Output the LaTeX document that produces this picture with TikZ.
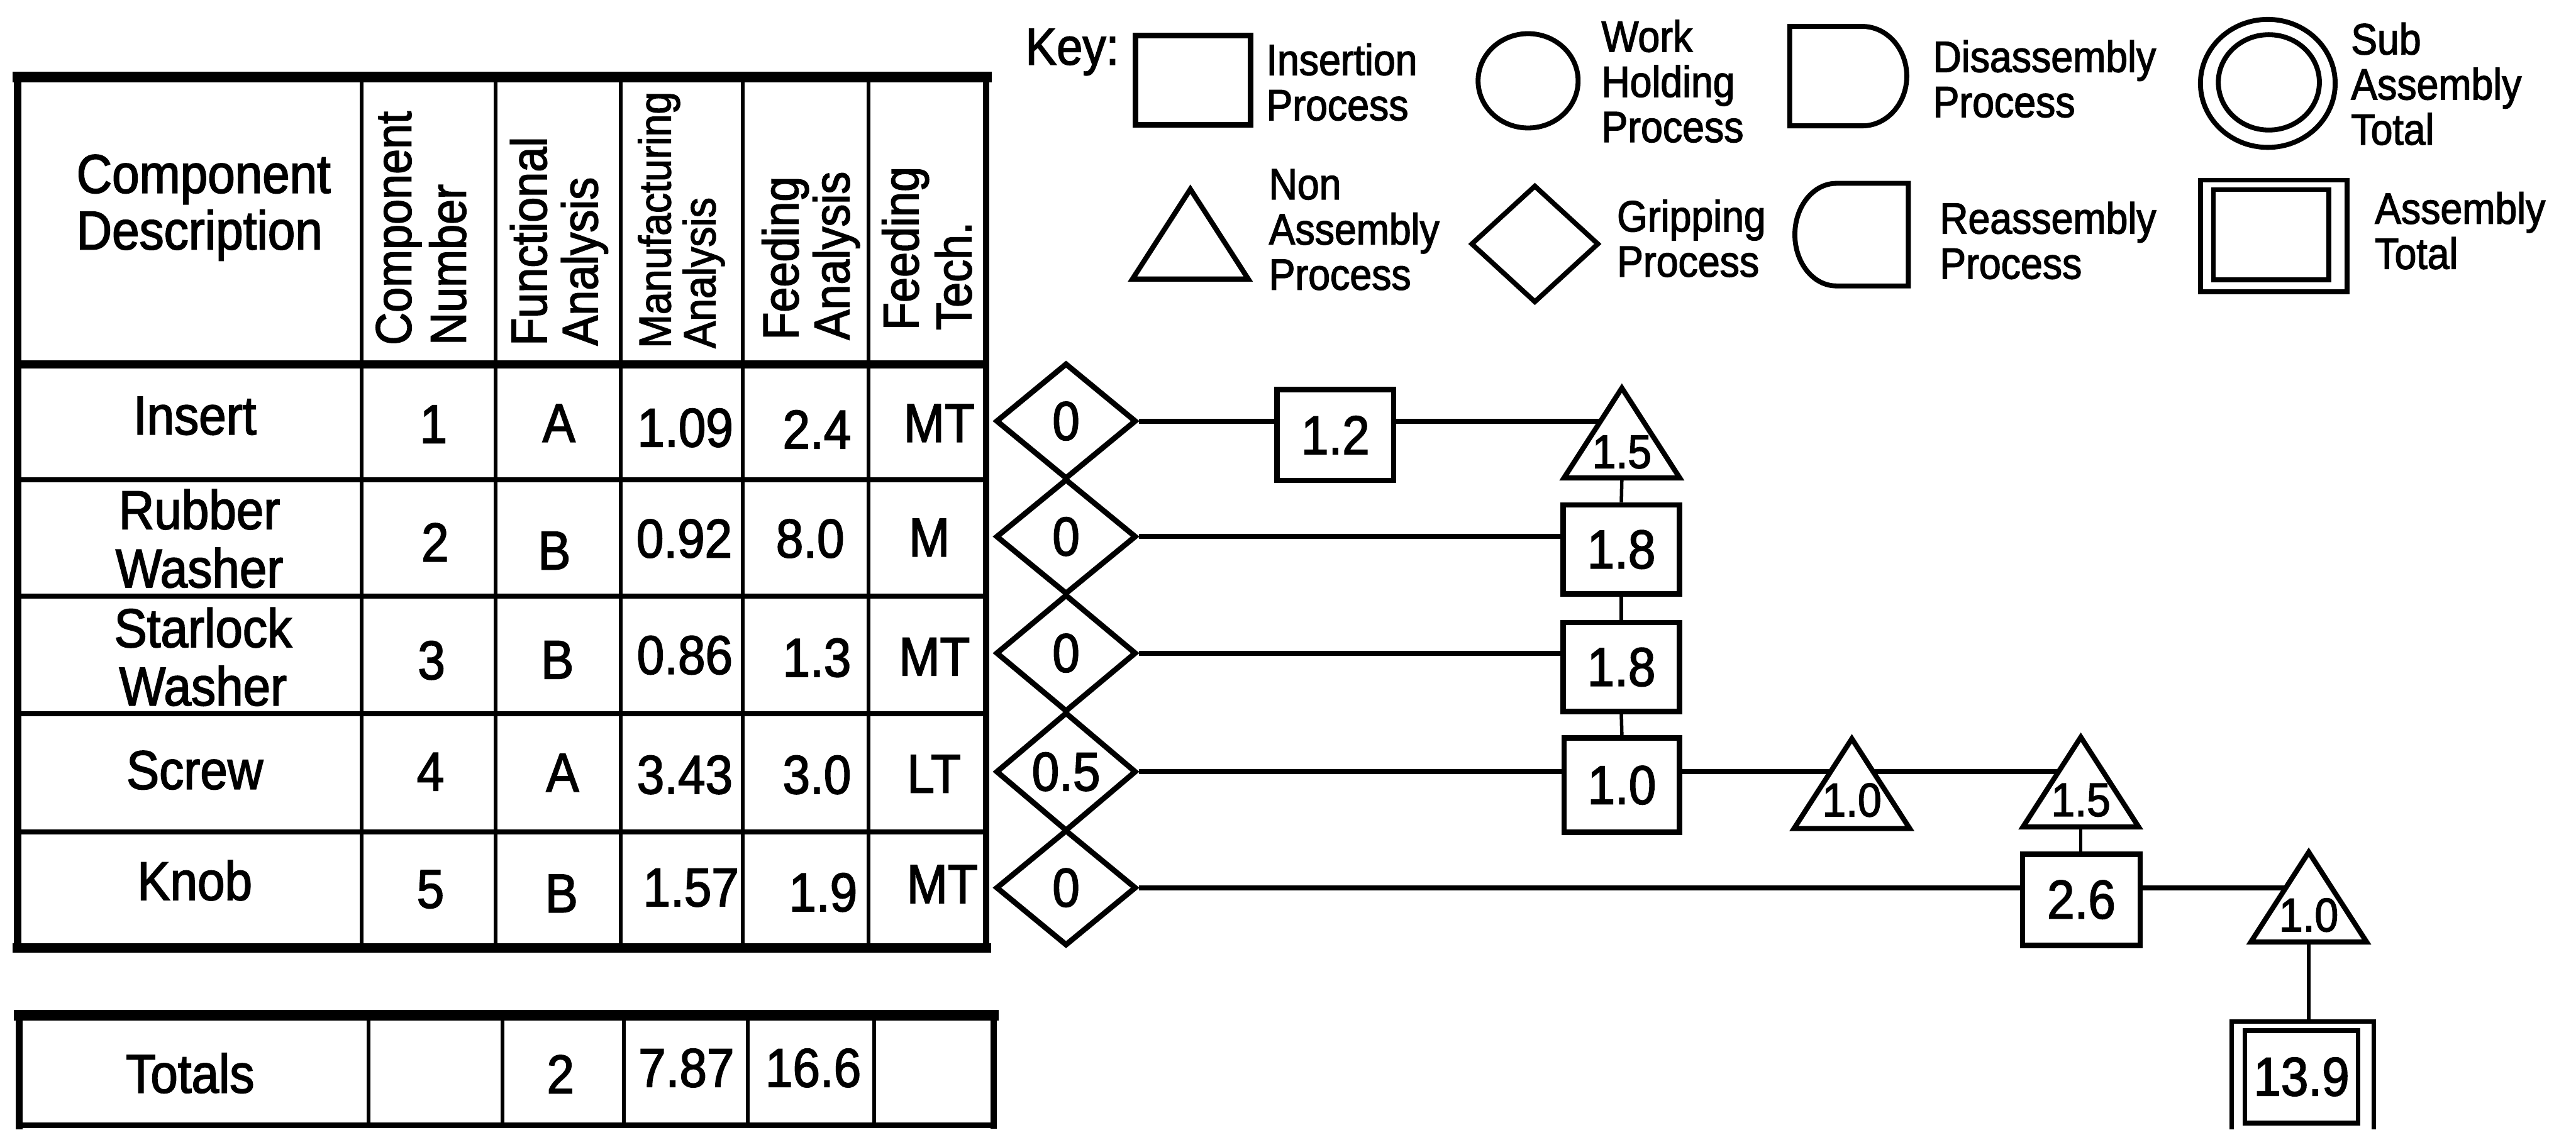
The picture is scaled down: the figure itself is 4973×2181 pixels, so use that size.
\documentclass[tikz,border=0pt]{standalone}
\usepackage{fontspec}
\setmainfont{Liberation Sans}[FakeStretch=0.9,FakeBold=2]
\usetikzlibrary{shapes.geometric,backgrounds,calc}
\tikzset{
  cell/.style={inner sep=0pt, font=\fontsize{30}{32}\selectfont, align=center},
  hdr/.style={inner sep=0pt, rotate=90, anchor=north west, align=left},
  keytxt/.style={inner sep=0pt, anchor=north west, align=left, font=\fontsize{24}{24.8}\selectfont},
  pbox/.style={draw, line width=3pt, fill=white, rectangle, inner sep=0pt, minimum width=2.25cm, minimum height=1.75cm, font=\fontsize{30}{32}\selectfont},
  grip/.style={draw, diamond, line width=3pt, fill=white, inner sep=0pt, minimum width=2.71cm, font=\fontsize{30}{32}\selectfont},
  tribox/.style={inner sep=0pt, minimum width=2.22cm, minimum height=1.72cm},
  tri/.style={draw, line width=2.8pt, fill=white, line join=miter},
  trinum/.style={inner sep=0pt, font=\fontsize{26}{28}\selectfont},
  conn/.style={line width=2.8pt},
  vconn/.style={line width=1.9pt},
  toprule/.style={line width=5.7pt, line cap=rect},
  midrule/.style={line width=4.5pt},
  rowrule/.style={line width=2.8pt},
  colrule/.style={line width=2.1pt},
  siderule/.style={line width=4pt, line cap=rect},
  keyline/.style={draw, line width=2.7pt},
}
\begin{document}
\begin{tikzpicture}[x=0.01cm, y=-0.01cm]
\useasboundingbox (0,0) rectangle (4973,2181);

% ---------------- main table ----------------
\draw[toprule] (34,149) -- (1904,149);
\draw[siderule] (34,149) -- (34,1830);
\draw[siderule, line width=3.5pt] (1904,149) -- (1904,1830);
\draw[midrule] (34,703) -- (1904,703);
\foreach \yy in {926,1151,1378,1606} \draw[rowrule] (34,\yy) -- (1904,\yy);
\draw[toprule, line width=5.2pt] (34,1830) -- (1904,1830);
\foreach \xx in {698,957,1198,1434,1677} \draw[colrule] (\xx,149) -- (\xx,1830);

% header
\node[inner sep=0pt, anchor=north west, align=left, font=\fontsize{30}{31}\selectfont] (hcd) at (147,298) {Component\\Description};
\node[hdr, font=\fontsize{27.6}{30}\selectfont] (hcn) at (725,667) {Component\\Number};
\node[hdr, font=\fontsize{27.6}{28}\selectfont] (hfa) at (984,668) {Functional\\Analysis};
\node[hdr, font=\fontsize{24.7}{24.5}\selectfont] (hma) at (1231,673) {Manufacturing\\Analysis};
\node[hdr, font=\fontsize{27.6}{28}\selectfont] (hfe) at (1470,657) {Feeding\\Analysis};
\node[hdr, font=\fontsize{27.6}{29}\selectfont] (hft) at (1702,638) {Feeding\\Tech.};

% row 1
\node[cell] (r1a) at (376,803) {Insert};
\node[cell] (r1b) at (837,819) {1};
\node[cell] (r1c) at (1079,817) {A};
\node[cell] (r1d) at (1323,826) {1.09};
\node[cell] (r1e) at (1577,829) {2.4};
\node[cell] (r1f) at (1813,817) {MT};
% row 2
\node[cell] (r2a) at (385,1040) {Rubber\\Washer};
\node[cell] (r2b) at (840,1047) {2};
\node[cell] (r2c) at (1070,1063) {B};
\node[cell] (r2d) at (1321,1040) {0.92};
\node[cell] (r2e) at (1564,1040) {8.0};
\node[cell] (r2f) at (1794,1038) {M};
% row 3
\node[cell] (r3a) at (392,1268) {Starlock\\Washer};
\node[cell] (r3b) at (833,1275) {3};
\node[cell] (r3c) at (1076,1274) {B};
\node[cell] (r3d) at (1322,1265) {0.86};
\node[cell] (r3e) at (1577,1270) {1.3};
\node[cell] (r3f) at (1804,1268) {MT};
% row 4
\node[cell] (r4a) at (376,1487) {Screw};
\node[cell] (r4b) at (831,1490) {4};
\node[cell] (r4c) at (1086,1492) {A};
\node[cell] (r4d) at (1322,1496) {3.43};
\node[cell] (r4e) at (1577,1496) {3.0};
\node[cell] (r4f) at (1803,1494) {LT};
% row 5
\node[cell] (r5a) at (376,1700) {Knob};
\node[cell] (r5b) at (831,1717) {5};
\node[cell] (r5c) at (1084,1725) {B};
\node[cell] (r5d) at (1334,1714) {1.57};
\node[cell] (r5e) at (1589,1723) {1.9};
\node[cell] (r5f) at (1819,1707) {MT};

% ---------------- totals table ----------------
\draw[toprule] (37,1960) -- (1918,1960);
\draw[rowrule, line width=3pt] (37,2173) -- (1918,2173);
\draw[siderule] (37,1960) -- (37,2173);
\draw[siderule, line width=3.5pt] (1918,1960) -- (1918,2173);
\foreach \xx in {711,970,1204,1443,1688} \draw[colrule] (\xx,1960) -- (\xx,2173);
\node[cell] (tta) at (367,2072) {Totals};
\node[cell] (ttc) at (1082,2074) {2};
\node[cell] (ttd) at (1325,2062) {7.87};
\node[cell] (tte) at (1570,2062) {16.6};

% ---------------- key ----------------
\node[inner sep=0pt, anchor=north west, font=\fontsize{28.5}{30}\selectfont] (key) at (1979,55) {Key:};
\node[keyline, line width=3pt, rectangle, inner sep=0pt, minimum width=2.22cm, minimum height=1.72cm] (kins) at (2303,155) {};
\node[keytxt] (kinsT) at (2444,83) {Insertion\\Process};
\node[keyline, ellipse, inner sep=0pt, minimum width=1.93cm, minimum height=1.82cm] (kwh) at (2950,156) {};
\node[keytxt] (kwhT) at (3091,38) {Work\\Holding\\Process};
\node[tribox] (ktri) at (2298,452) {};
\draw[tri, fill=none] (ktri.north) -- (ktri.south east) -- (ktri.south west) -- cycle;
\node[keytxt] (ktriT) at (2449,326) {Non\\Assembly\\Process};
\node[keyline, diamond, inner sep=0pt, minimum width=2.47cm, minimum height=2.27cm] (kgrip) at (2963,471) {};
\node[keytxt] (kgripT) at (3121,385) {Gripping\\Process};
\draw[keyline] (3455,51) -- (3595,51) arc[start angle=-90, end angle=90, x radius=86, y radius=96] -- (3455,243) -- cycle;
\node[keytxt] (kdisT) at (3731,77) {Disassembly\\Process};
\draw[keyline] (3684,354) -- (3545,354) arc[start angle=-90, end angle=-270, x radius=80, y radius=99] -- (3684,552) -- cycle;
\node[keytxt] (kreT) at (3744,389) {Reassembly\\Process};
\node[keyline, ellipse, inner sep=0pt, minimum width=2.60cm, minimum height=2.47cm] (ksubo) at (4378,161) {};
\node[keyline, ellipse, inner sep=0pt, minimum width=1.95cm, minimum height=1.84cm] (ksubi) at (4380,159) {};
\node[keytxt] (ksubT) at (4538,43) {Sub\\Assembly\\Total};
\node[keyline, rectangle, inner sep=0pt, minimum width=2.83cm, minimum height=2.15cm] (kasmo) at (4389.5,455.5) {};
\node[keyline, rectangle, inner sep=0pt, minimum width=2.23cm, minimum height=1.74cm] (kasmi) at (4384.5,453) {};
\node[keytxt] (kasmT) at (4584,370) {Assembly\\Total};

% ---------------- process chart ----------------
\node[grip, minimum height=2.24cm] (d1) at (2058,813) {0};
\node[grip, minimum height=2.23cm] (d2) at (2058,1036) {0};
\node[grip, minimum height=2.27cm] (d3) at (2058,1261) {0};
\node[grip, minimum height=2.30cm] (d4) at (2058,1490) {0.5};
\node[grip, minimum height=2.24cm] (d5) at (2058,1714) {0};

\node[pbox] (b12) at (2578,840) {1.2};
\node[pbox, minimum height=1.72cm] (b2) at (3130,1061) {1.8};
\node[pbox, minimum height=1.72cm] (b3) at (3130,1288) {1.8};
\node[pbox, minimum width=2.23cm, minimum height=1.82cm] (b4) at (3131,1516) {1.0};
\node[pbox, minimum width=2.27cm, minimum height=1.76cm] (b26) at (4018,1737) {2.6};

\node[tribox] (t1) at (3131,836) {};
\draw[tri] (t1.north) -- (t1.south east) -- (t1.south west) -- cycle;
\node[trinum] (t1n) at ($(t1.south)+(0,-50)$) {1.5};
\node[tribox] (t4a) at (3575,1513) {};
\draw[tri] (t4a.north) -- (t4a.south east) -- (t4a.south west) -- cycle;
\node[trinum] (t4an) at ($(t4a.south)+(0,-55)$) {1.0};
\node[tribox] (t4b) at (4017,1510) {};
\draw[tri] (t4b.north) -- (t4b.south east) -- (t4b.south west) -- cycle;
\node[trinum] (t4bn) at ($(t4b.south)+(0,-52)$) {1.5};
\node[tribox] (t5) at (4457,1732) {};
\draw[tri] (t5.north) -- (t5.south east) -- (t5.south west) -- cycle;
\node[trinum] (t5n) at ($(t5.south)+(0,-52)$) {1.0};

% assembly total
\node[draw, line width=2.6pt, rectangle, inner sep=0pt, minimum width=2.18cm, minimum height=1.78cm, font=\fontsize{30}{32}\selectfont] (tot) at (4443,2079) {13.9};
\coordinate (tottop) at (4457,1972);
\draw[line width=2.4pt] (4308,2181) -- (4308,1972) -- (4583,1972) -- (4583,2181);

\begin{pgfonlayer}{background}
\draw[conn] (d1.east) -- (d1.east -| b12.west);
\draw[conn] (d1.east -| b12.east) -- (d1.east -| t1.center);
\draw[conn] (d2.east) -- (d2.east -| b2.west);
\draw[conn] (d3.east) -- (d3.east -| b3.west);
\draw[conn] (d4.east) -- (d4.east -| b4.west);
\draw[conn] (d4.east -| b4.east) -- (d4.east -| t4a.center);
\draw[conn] (d4.east -| t4a.center) -- (d4.east -| t4b.center);
\draw[conn] (d5.east) -- (d5.east -| b26.west);
\draw[conn] (d5.east -| b26.east) -- (d5.east -| t5.center);
\draw[vconn] (t1.south) -- (b2.north);
\draw[vconn] (b2.south) -- (b3.north);
\draw[vconn] (b3.south) -- (b4.north);
\draw[vconn] (t4b.south) -- (t4b.south |- b26.north);
\draw[vconn] (t5.south) -- (tottop);
\end{pgfonlayer}
\end{tikzpicture}
\end{document}
